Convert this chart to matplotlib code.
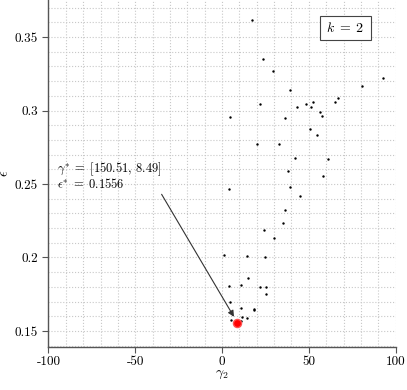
import matplotlib
matplotlib.use("Agg")
import matplotlib.pyplot as plt
from matplotlib.patches import Rectangle
from matplotlib.ticker import MultipleLocator

plt.rcParams["font.family"] = ["cmr10", "DejaVu Serif"]
plt.rcParams["mathtext.fontset"] = "cm"
plt.rcParams["axes.unicode_minus"] = False

# sampled gamma_2 values and error
gamma2 = [17.5, 23.5, 29.3, 92.7, 80.9, 39.1, 66.7, 65.3, 22.0, 52.4,
          48.2, 43.4, 51.3, 56.3, 57.8, 4.8, 36.2, 50.9, 54.5, 20.0,
          32.8, 42.0, 61.1, 38.2, 58.2, 3.9, 39.1, 44.9, 36.2, 34.9,
          24.1, 29.7, 1.0, 14.3, 25.0, 15.2, 4.2, 10.8, 21.6, 25.3,
          25.4, 4.4, 11.0, 18.3, 18.7, 11.6, 14.3, 5.2, 11.0]
eps = [0.3616, 0.3348, 0.3269, 0.3221, 0.3165, 0.3137, 0.3085, 0.3056, 0.3046, 0.3058,
       0.3042, 0.3022, 0.3026, 0.2990, 0.2965, 0.2958, 0.2949, 0.2874, 0.2833, 0.2770,
       0.2774, 0.2679, 0.2670, 0.2586, 0.2554, 0.2468, 0.2478, 0.2416, 0.2325, 0.2237,
       0.2187, 0.2131, 0.2017, 0.2010, 0.2003, 0.1861, 0.1808, 0.1815, 0.1799, 0.1797,
       0.1754, 0.1699, 0.1654, 0.1652, 0.1641, 0.1593, 0.1590, 0.1577, 0.1570]

best_gamma = [150.51, 8.49]
best_eps = 0.1556

x_ticks = [-100, -50, 0, 50, 100]
x_tick_labels = ["-100", "-50", "0", "50", "100"]
y_ticks = [0.15, 0.2, 0.25, 0.3, 0.35]
y_tick_labels = ["0.15", "0.2", "0.25", "0.3", "0.35"]

fig = plt.figure(figsize=(4.07, 3.90), dpi=100)
ax = fig.add_axes([0.119, 0.1095, 0.853, 0.8905])

ax.scatter(gamma2, eps, s=3, color="black", zorder=3, linewidths=0)
ax.scatter([best_gamma[1]], [best_eps], s=34, color="red", edgecolors="#ff5050",
           linewidths=1, zorder=4)

ax.set_xlim(-100, 100)
ax.set_ylim(0.1389, 0.3752)
ax.set_xticks(x_ticks)
ax.set_xticklabels(x_tick_labels)
ax.set_yticks(y_ticks)
ax.set_yticklabels(y_tick_labels)
ax.xaxis.set_minor_locator(MultipleLocator(10))
ax.yaxis.set_minor_locator(MultipleLocator(0.01))
ax.tick_params(which="major", direction="out", length=4, width=0.8,
               color="#555555", labelsize=9.5)
ax.tick_params(axis="x", pad=2)
ax.tick_params(which="minor", length=0)
ax.grid(which="both", linestyle=":", color="#c8c8c8", linewidth=0.8)
ax.set_axisbelow(True)

for s in ["top", "right"]:
    ax.spines[s].set_visible(False)
for s in ["left", "bottom"]:
    ax.spines[s].set_color("#555555")
    ax.spines[s].set_linewidth(1.0)

ax.set_xlabel(r"$\gamma_2$", fontsize=10, labelpad=1)
ax.set_ylabel(r"$\epsilon$", fontsize=10)
ax.yaxis.set_label_coords(-0.108, 0.5)

ax.text(-95.3, 0.2600,
        r"$\gamma^{*}\;=\;[%.2f,\,%.2f]$" % (best_gamma[0], best_gamma[1]),
        fontsize=9.0, va="center", ha="left")
ax.text(-95.3, 0.2498, r"$\epsilon^{*}\;=\;%.4f$" % best_eps,
        fontsize=9.0, va="center", ha="left")
ax.annotate("", xy=(best_gamma[1], best_eps + 0.0008), xytext=(-34.8, 0.2430),
            arrowprops=dict(arrowstyle="-|>", color="#333333", lw=0.8,
                            mutation_scale=9, shrinkA=0, shrinkB=4))

ax.add_patch(Rectangle((0.782, 0.886), 0.146, 0.068, transform=ax.transAxes,
                       facecolor="white", edgecolor="#444444", linewidth=0.8,
                       zorder=5))
ax.text(0.799, 0.920, r"$k\;=\;2$", transform=ax.transAxes, fontsize=10,
        ha="left", va="center", zorder=6)

fig.savefig("out.png", dpi=100)
